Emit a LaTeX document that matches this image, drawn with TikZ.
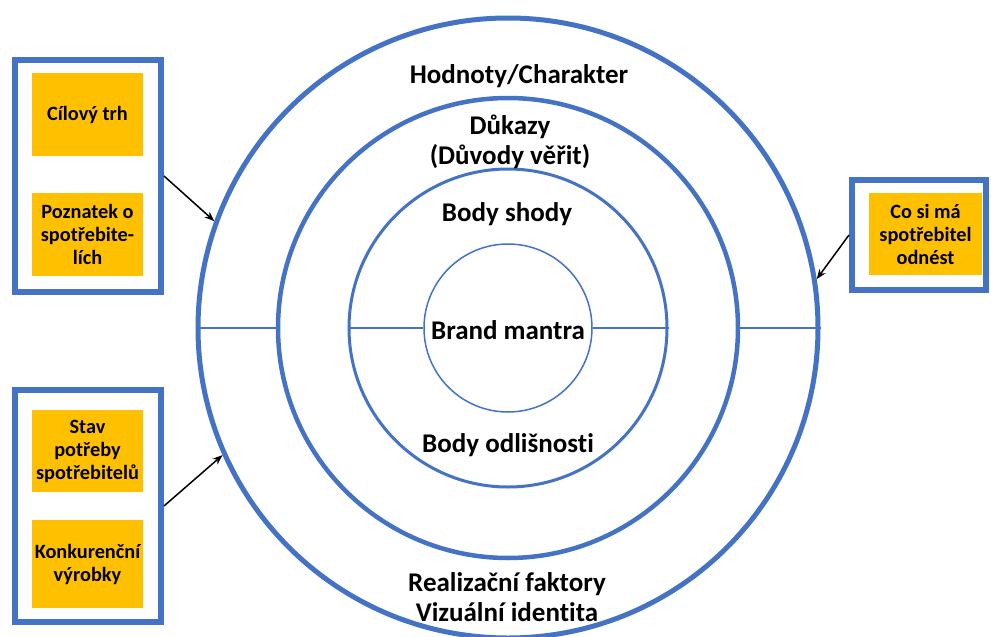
\documentclass[tikz,border=0pt]{standalone}
\usepackage{fontspec}
\setmainfont[Ligatures={NoCommon}]{Carlito}
\usetikzlibrary{arrows.meta}
\definecolor{ringblue}{HTML}{4472C4}
\definecolor{boxorange}{HTML}{FFC000}
\tikzset{
  ring/.style={circle, draw=ringblue, inner sep=0pt},
  frame/.style={draw=ringblue, line width=6pt, inner sep=0pt},
  obox/.style={fill=boxorange, inner sep=0pt, align=center, font=\fontsize{20.3}{23}\selectfont\bfseries},
  lbl/.style={align=center, font=\fontsize{27}{30}\selectfont\bfseries, inner sep=0pt},
  divider/.style={draw=ringblue, line width=2pt},
  pointer/.style={draw=black, line width=1.5pt, -{Stealth[length=10pt,width=7.5pt]}}
}
\begin{document}
\begin{tikzpicture}[x=1pt,y=-1pt]
\useasboundingbox (0,0) rectangle (991,637);
\fill[white] (0,0) rectangle (991,637);
% rings
\node[ring, line width=5pt, minimum size=620pt] (outer) at (508,328) {};
\node[ring, line width=4.5pt, minimum size=460pt] (second) at (508,328) {};
\node[ring, line width=3pt, minimum size=318pt] (third) at (508,328) {};
\node[ring, line width=1.5pt, minimum size=168pt] (inner) at (508,328) {};
% dividers
\draw[divider] (outer.west) -- (second.west);
\draw[divider] (second.east) -- (outer.east);
\draw[divider] (third.west) -- (inner.west);
\draw[divider] (inner.east) -- (third.east);
% ring labels
\node[lbl] (hod) at (519,76) {Hodnoty/Charakter};
\node[lbl] (duk) at (510,142) {Důkazy\\(Důvody věřit)};
\node[lbl] (shody) at (507,214) {Body shody};
\node[lbl] (mantra) at (508,330) {Brand mantra};
\node[lbl] (odl) at (508,445) {Body odlišnosti};
\node[lbl] (real) at (507,597) {Realizační faktory\\Vizuální identita};
% left top frame
\node[frame, minimum width=146pt, minimum height=232pt] (f1) at (88,176) {};
\node[obox, minimum width=111pt, minimum height=83pt] (b1) at (87.5,114.5) {Cílový trh};
\node[obox, minimum width=111pt, minimum height=83pt] (b2) at (87.5,234.5) {Poznatek o\\spotřebite-\\lích};
% left bottom frame
\node[frame, minimum width=146pt, minimum height=232pt] (f2) at (88,506) {};
\node[obox, minimum width=111pt, minimum height=82pt] (b3) at (87.5,451) {Stav\\potřeby\\spotřebitelů};
\node[obox, minimum width=111pt, minimum height=88pt] (b4) at (87.5,564) {Konkurenční\\výrobky};
% right frame
\node[frame, minimum width=134pt, minimum height=110pt] (f3) at (919,235) {};
\node[obox, minimum width=113pt, minimum height=82pt] (b5) at (925.5,234) {Co si má\\spotřebitel\\odnést};
% arrows
\draw[pointer] (f1.east) -- (outer.160.5);
\draw[pointer] (f2.east) -- (outer.204.8);
\draw[pointer] (f3.west) -- (outer.9.2);
\end{tikzpicture}
\end{document}
